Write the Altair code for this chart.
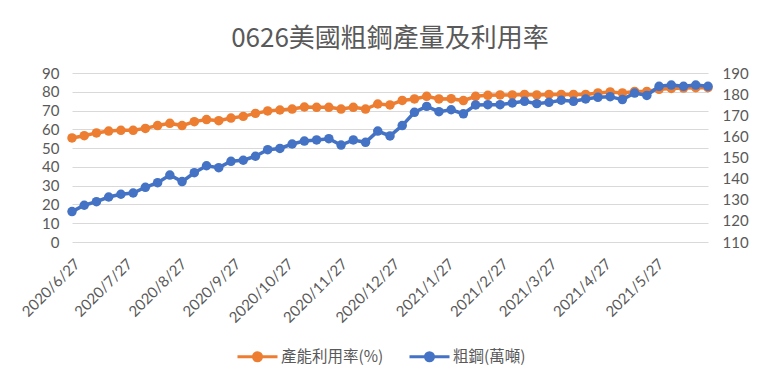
import altair as alt
import pandas as pd

# Weekly data, first week 2020/6/27, 53 weeks
start_date = "2020-06-27"
n_weeks = 53
util_pct = [55.4, 56.6, 58.1, 59.1, 59.5, 59.5, 60.5, 62.0, 63.2, 62.0,
            64.1, 65.2, 64.6, 66.0, 66.9, 68.5, 69.8, 70.3, 70.8, 71.9,
            71.7, 71.7, 70.8, 71.7, 70.8, 73.5, 73.0, 75.4, 76.2, 77.6,
            76.2, 76.3, 75.3, 77.6, 78.1, 78.3, 78.3, 78.6, 78.3, 78.6,
            78.6, 78.6, 78.6, 79.4, 79.9, 79.4, 80.2, 80.2, 81.3, 81.8,
            82.0, 82.2, 82.2]
steel_10kt = [124.4, 127.4, 129.1, 131.3, 132.6, 133.2, 135.9, 138.1, 141.7, 138.6,
              142.8, 146.1, 145.2, 148.2, 148.7, 150.6, 153.7, 154.3, 156.4, 157.8,
              158.3, 158.9, 155.9, 158.3, 157.2, 162.5, 160.2, 165.1, 171.4, 174.2,
              171.7, 172.6, 170.7, 174.9, 175.0, 175.0, 175.8, 176.6, 175.5, 176.1,
              177.1, 176.6, 177.7, 178.5, 178.8, 177.4, 180.5, 179.4, 183.7, 184.3,
              183.7, 184.3, 183.7]
series_names = ["產能利用率(%)", "粗鋼(萬噸)"]
series_colors = ["#ED7D31", "#4472C4"]
left_ticks = list(range(0, 91, 10))
right_ticks = list(range(110, 191, 10))
tick_months = [(2020, 6), (2020, 7), (2020, 8), (2020, 9), (2020, 10), (2020, 11),
               (2020, 12), (2021, 1), (2021, 2), (2021, 3), (2021, 4), (2021, 5)]

dates = pd.date_range(start_date, periods=n_weeks, freq="7D")
df_u = pd.DataFrame({"date": dates, "value": util_pct, "series": series_names[0]})
df_s = pd.DataFrame({"date": dates, "value": steel_10kt, "series": series_names[1]})

FONT = "Noto Sans CJK TC"
NUMFONT = "Lato"
GRAY = "#595959"

x_enc = alt.X(
    "date:T",
    scale=alt.Scale(domain=[alt.DateTime(year=2020, month=6, date=27),
                            alt.DateTime(year=2021, month=6, date=26)]),
    axis=alt.Axis(
        values=[alt.DateTime(year=y, month=m, date=27) for y, m in tick_months],
        format="%Y/%-m/%d", labelAngle=-45, grid=False, ticks=False, tickSize=0,
        domain=False, title=None, labelFontSize=15, labelColor=GRAY, labelFont=NUMFONT,
        labelPadding=14, labelOverlap=False, labelBound=False,
    ),
)

color_enc = alt.Color(
    "series:N",
    scale=alt.Scale(domain=series_names, range=series_colors),
    sort=series_names,
    legend=alt.Legend(
        orient="none", legendX=164, legendY=262, direction="horizontal", title=None,
        labelFontSize=15.5, labelColor=GRAY, labelFont=FONT, padding=0,
        symbolType="M-1,0L1,0M-0.2,0A0.2,0.2 0 1,0 0.2,0A0.2,0.2 0 1,0 -0.2,0M-0.08,0A0.08,0.08 0 1,0 0.08,0A0.08,0.08 0 1,0 -0.08,0",
        symbolSize=1600, symbolStrokeWidth=3, columnPadding=19, labelOffset=2,
    ),
)

line_u = alt.Chart(df_u).mark_line(
    strokeWidth=3.5,
    point=alt.OverlayMarkDef(filled=True, size=90, opacity=1),
).encode(
    x=x_enc,
    y=alt.Y("value:Q", scale=alt.Scale(domain=[0, 90]),
            axis=alt.Axis(values=left_ticks, grid=True, gridColor="#D9D9D9",
                          gridWidth=1, ticks=False, tickSize=0, domain=False,
                          title=None, labelFontSize=15, labelColor=GRAY,
                          labelFont=NUMFONT, labelPadding=13,
                          minExtent=59, maxExtent=59)),
    color=color_enc,
)

line_s = alt.Chart(df_s).mark_line(
    strokeWidth=3.5,
    point=alt.OverlayMarkDef(filled=True, size=90, opacity=1),
).encode(
    x=x_enc,
    y=alt.Y("value:Q", scale=alt.Scale(domain=[110, 190]),
            axis=alt.Axis(values=right_ticks, orient="right", grid=False,
                          ticks=False, tickSize=0, domain=False, title=None,
                          labelFontSize=15, labelColor=GRAY, labelFont=NUMFONT,
                          labelPadding=14)),
    color=color_enc,
)

chart = alt.layer(line_u, line_s).resolve_scale(y="independent").properties(
    width=636, height=169,
    title=alt.TitleParams("0626美國粗鋼產量及利用率", fontSize=26, color=GRAY,
                          font=FONT, fontWeight="normal", anchor="middle",
                          offset=14),
    padding={"left": 5, "top": 18, "right": 5, "bottom": 5},
).configure_view(stroke=None)

chart.save("out.html", embed_options={"renderer": "svg", "actions": False})
